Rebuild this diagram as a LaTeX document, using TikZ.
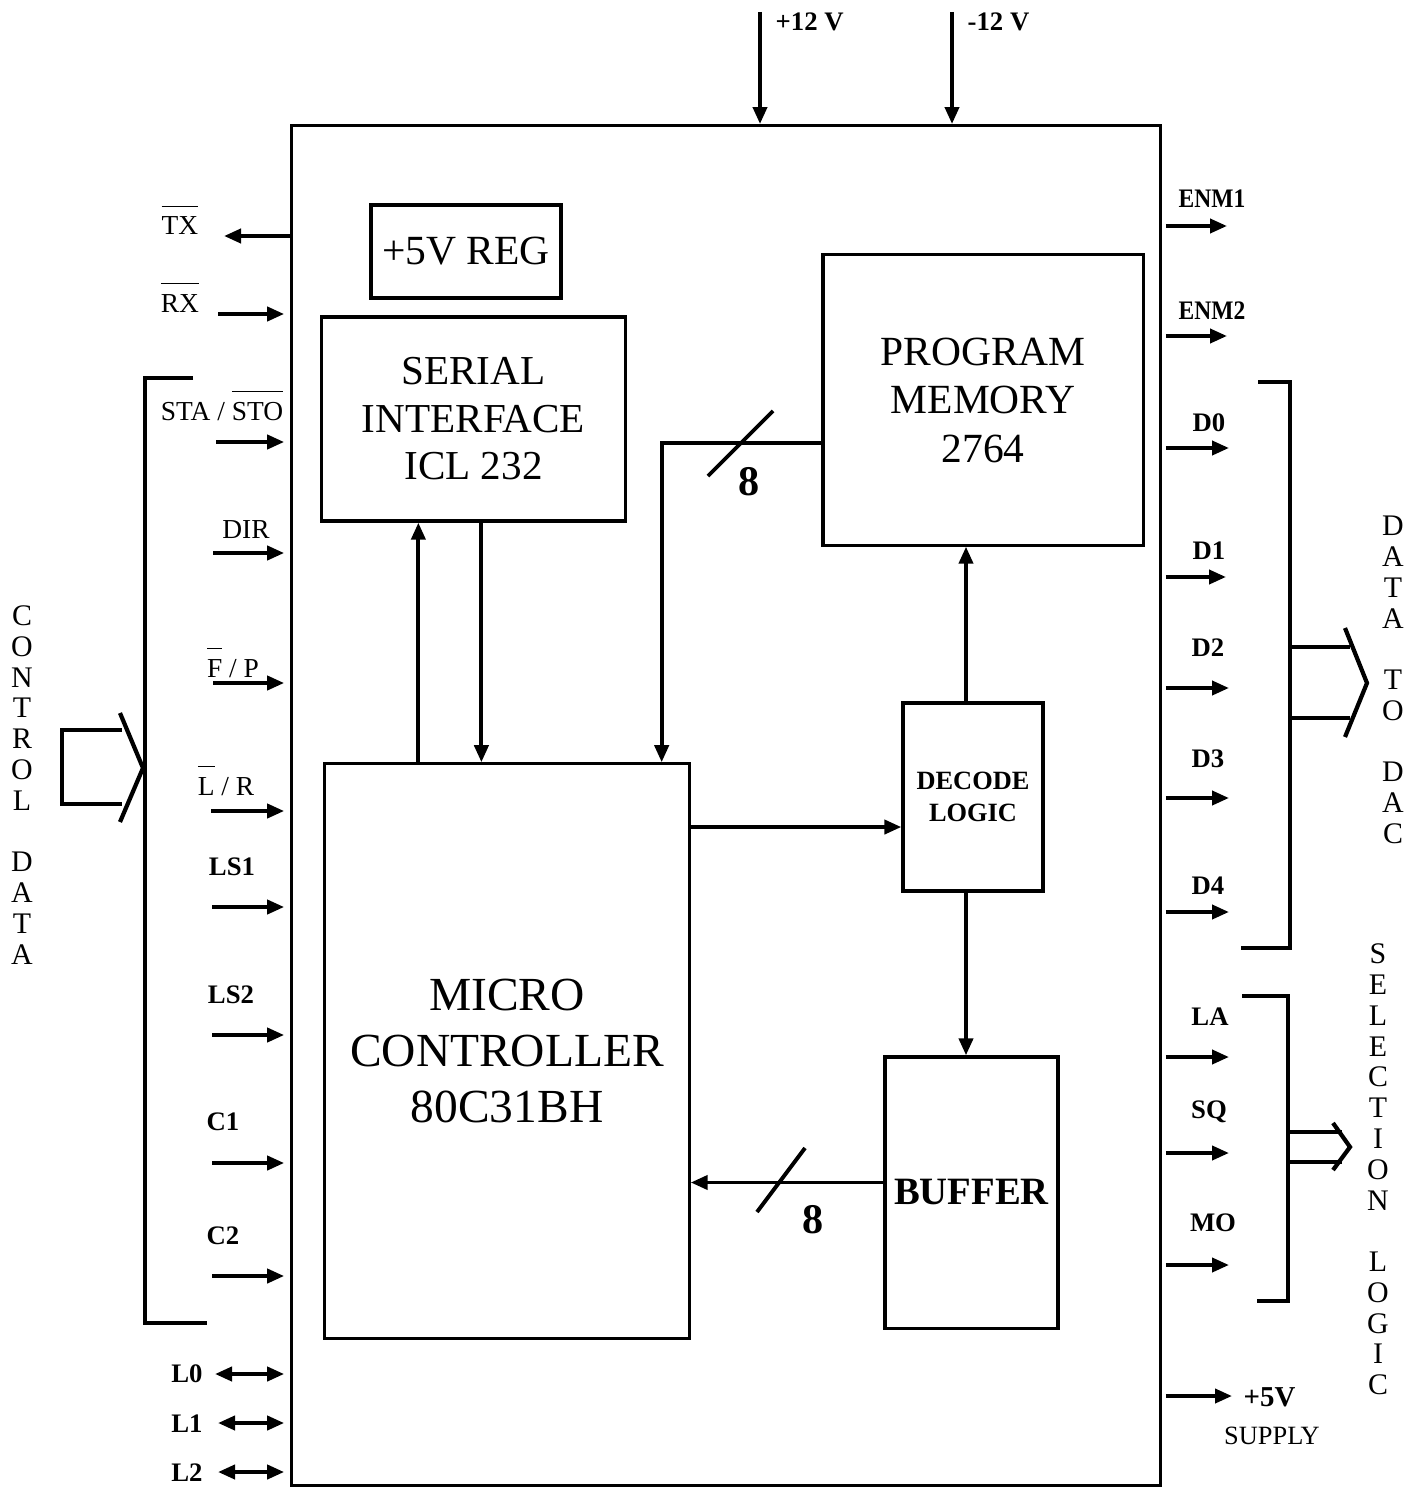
\documentclass[tikz,border=0pt]{standalone}
\usepackage{fontspec}
\setmainfont{Liberation Serif}
\usetikzlibrary{arrows.meta,positioning,calc}

\newcommand{\ovl}[1]{$\overline{\mbox{#1}\rule{0pt}{6.7pt}}$}

\tikzset{
    blk/.style={rectangle, draw, line width=0.9pt, align=center, inner sep=0pt},
    sig/.style={-{Triangle[length=0.17cm, width=0.14cm]}, line width=1.1pt},
    bisig/.style={{Triangle[length=0.17cm, width=0.14cm]}-{Triangle[length=0.17cm, width=0.14cm]}, line width=1.1pt},
    pin/.style={font=\fontsize{7.8}{9}\selectfont, inner sep=0pt},
    pinb/.style={font=\bfseries\fontsize{7.6}{9}\selectfont, inner sep=0pt},
    vtext/.style={font=\fontsize{8.5}{8.75}\selectfont, align=center, inner sep=0pt},
    busline/.style={line width=1.2pt},
    numlbl/.style={font=\bfseries\fontsize{12}{14}\selectfont, inner sep=0pt},
}

\begin{document}
\begin{tikzpicture}[x=0.01cm, y=-0.01cm]
\useasboundingbox (0,0) rectangle (1409,1488);

% blocks
\node[blk, minimum width=8.68cm, minimum height=13.59cm] (main) at (726,805.5) {};
\node[blk, minimum width=1.90cm, minimum height=0.93cm, font=\fontsize{11.8}{13}\selectfont]
    (reg) at (466,251.5) {+5V REG};
\node[blk, minimum width=3.03cm, minimum height=2.04cm, font=\fontsize{11.7}{13.5}\selectfont]
    (serial) at (473.5,419) {SERIAL\\INTERFACE\\ICL 232};
\node[blk, minimum width=3.20cm, minimum height=2.90cm, font=\fontsize{11.8}{13.8}\selectfont]
    (prog) at (983,400) {PROGRAM\\MEMORY\\2764};
\node[blk, minimum width=3.64cm, minimum height=5.74cm, font=\fontsize{13.5}{15.8}\selectfont]
    (micro) at (507,1051) {MICRO\\CONTROLLER\\80C31BH};
\node[blk, minimum width=1.40cm, minimum height=1.88cm, font=\bfseries\fontsize{7.5}{9.1}\selectfont]
    (decode) at (973,797) {DECODE\\LOGIC};
\node[blk, minimum width=1.73cm, minimum height=2.71cm, font=\bfseries\fontsize{11}{13}\selectfont]
    (buffer) at (971.5,1192.5) {BUFFER};

% internal connections
\draw[sig] ([xshift=0.95cm]micro.north west) -- ([xshift=0.95cm]micro.north west |- serial.south);
\draw[sig] ([xshift=1.58cm]micro.north west |- serial.south) -- ([xshift=1.58cm]micro.north west);
\draw[sig] ([yshift=-0.43cm]prog.west) -| ([xshift=-0.29cm]micro.north east);
\coordinate (slashA) at (740,444);
\draw[line width=1.1pt] ([shift={(-0.32cm,-0.32cm)}]slashA) -- ([shift={(0.33cm,0.33cm)}]slashA);
\node[numlbl] (eightA) at (749,482) {8};
\coordinate (dl) at ([yshift=-0.30cm]decode.west);
\draw[sig] (micro.east |- dl) -- (dl);
\draw[sig] ([xshift=-0.07cm]decode.north) -- ([xshift=-0.07cm]decode.north |- prog.south);
\draw[sig] ([xshift=-0.07cm]decode.south) -- ([xshift=-0.07cm]decode.south |- buffer.north);
\draw[sig] ([yshift=0.10cm]buffer.west) -- ([yshift=0.10cm]buffer.west -| micro.east);
\coordinate (slashB) at (781,1180);
\draw[line width=1.1pt] ([shift={(-0.24cm,-0.32cm)}]slashB) -- ([shift={(0.24cm,0.32cm)}]slashB);
\node[numlbl] (eightB) at (813,1220) {8};

% supplies
\coordinate (vpos) at (760,12);
\coordinate (vneg) at (952,12);
\draw[sig] (vpos) -- (vpos |- main.north);
\draw[sig] (vneg) -- (vneg |- main.north);
\node[pinb, anchor=west] (vposlbl) at (775,22) {+12 V};
\node[pinb, anchor=west] (vneglbl) at (967,22) {-12 V};

% left pins
\coordinate (tx) at (224,236);
\coordinate (rx) at (218,314);
\coordinate (sta) at (216,442);
\coordinate (dir) at (213,553);
\coordinate (fp) at (213,683);
\coordinate (lr) at (211,811);
\coordinate (ls1) at (212,907);
\coordinate (ls2) at (212,1035);
\coordinate (c1) at (212,1163);
\coordinate (c2) at (212,1276);
\coordinate (l0) at (215,1374);
\coordinate (l1) at (218,1423);
\coordinate (l2) at (218,1472);

\draw[sig] (tx -| main.west) -- (tx);
\foreach \p in {rx,sta,dir,fp,lr,ls1,ls2,c1,c2}
    \draw[sig, shorten >=0.06cm] (\p) -- (\p -| main.west);
\foreach \p in {l0,l1,l2}
    \draw[bisig, shorten >=0.06cm] (\p) -- (\p -| main.west);

\node[pin, anchor=base] (txlbl) at (180,235) {\ovl{TX}};
\node[pin, anchor=base] (rxlbl) at (180,312) {\ovl{RX}};
\node[pin, anchor=base] (stalbl) at (222,420) {STA / \ovl{STO}};
\node[pin] (dirlbl) at (246,530) {DIR};
\node[pin, anchor=base] (fplbl) at (233,677) {\ovl{F} / P};
\node[pin, anchor=base] (lrlbl) at (226,795) {\ovl{L} / R};
\node[pinb] (ls1lbl) at (232,867) {LS1};
\node[pinb] (ls2lbl) at (231,995) {LS2};
\node[pinb] (c1lbl) at (223,1122) {C1};
\node[pinb] (c2lbl) at (223,1236) {C2};
\node[pinb] (l0lbl) at (187,1374) {L0};
\node[pinb] (l1lbl) at (187,1424) {L1};
\node[pinb] (l2lbl) at (187,1473) {L2};

% control data bus
\draw[busline] (193,378) -- (145,378) -- (145,1323) -- (207,1323);
\draw[busline] (122,730) -- (62,730) -- (62,804) -- (122,804);
\draw[busline] (120,713) -- (143,768) -- (120,822);
\node[vtext] (ctrltxt) at (22,785) {C\\O\\N\\T\\R\\O\\L\\[8.75pt]D\\A\\T\\A};

% right pins
\coordinate (enm1) at (1227,226);
\coordinate (enm2) at (1227,336);
\coordinate (d0) at (1229,448);
\coordinate (d1) at (1226,577);
\coordinate (d2) at (1229,688);
\coordinate (d3) at (1229,798);
\coordinate (d4) at (1229,912);
\coordinate (la) at (1229,1057);
\coordinate (sq) at (1229,1153);
\coordinate (mo) at (1229,1265);
\coordinate (sup) at (1232,1396);

\foreach \p in {enm1,enm2,d0,d1,d2,d3,d4,la,sq,mo,sup}
    \draw[sig, shorten <=0.04cm] (\p -| main.east) -- (\p);

\node[pinb] (enm1lbl) at (1212,199) {\scalebox{0.88}[1]{ENM1}};
\node[pinb] (enm2lbl) at (1212,311) {\scalebox{0.88}[1]{ENM2}};
\node[pinb] (d0lbl) at (1209,423) {D0};
\node[pinb] (d1lbl) at (1209,551) {D1};
\node[pinb] (d2lbl) at (1208,648) {D2};
\node[pinb] (d3lbl) at (1208,759) {D3};
\node[pinb] (d4lbl) at (1208,886) {D4};
\node[pinb] (lalbl) at (1210,1017) {LA};
\node[pinb] (sqlbl) at (1209,1112) {SQ};
\node[pinb] (molbl) at (1213,1223) {MO};
\node[pinb, font=\bfseries\fontsize{8.2}{9}\selectfont, anchor=west] (suplbl) at (1243,1397) {+5V};
\node[pin, font=\fontsize{7.5}{9}\selectfont] (supply) at (1272,1436) {SUPPLY};

% data to DAC bus
\draw[busline] (1258,382) -- (1290,382) -- (1290,948) -- (1241,948);
\draw[busline] (1290,647) -- (1350,647);
\draw[busline] (1290,718) -- (1350,718);
\draw[busline] (1345,628) -- (1367,683) -- (1345,737);
\node[vtext] (dactxt) at (1393,680) {D\\A\\T\\A\\[8.75pt]T\\O\\[8.75pt]D\\A\\C};

% selection logic bus
\draw[busline] (1242,996) -- (1288,996) -- (1288,1301) -- (1257,1301);
\draw[busline] (1288,1132) -- (1342,1132);
\draw[busline] (1288,1162) -- (1342,1162);
\draw[busline] (1333,1123) -- (1350,1147) -- (1333,1170);
\node[vtext] (seltxt) at (1378,1169.5) {S\\E\\L\\E\\C\\T\\I\\O\\N\\[8.75pt]L\\O\\G\\I\\C};

\end{tikzpicture}
\end{document}
